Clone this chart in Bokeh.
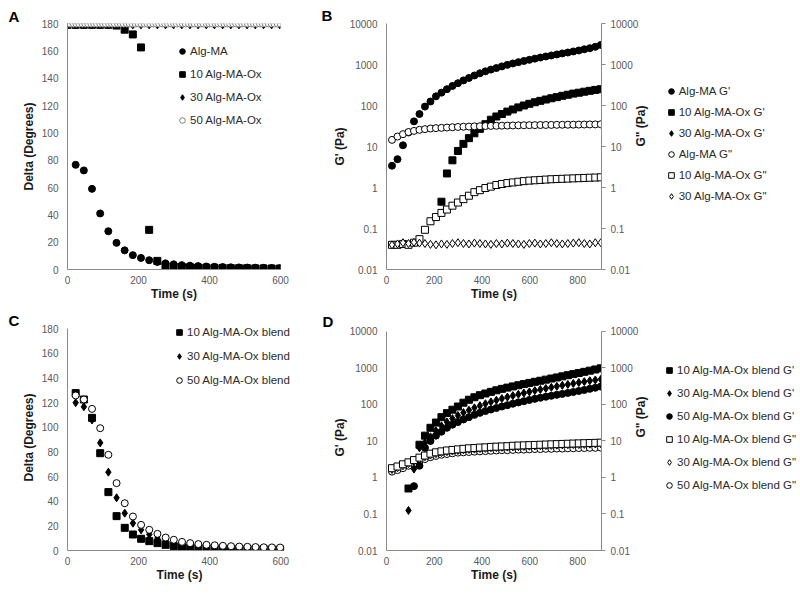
import math
from bokeh.plotting import figure
from bokeh.models import (Range1d, FixedTicker, LogAxis, Legend, LegendItem,
                          ColumnDataSource, CustomJSTickFormatter)
from bokeh.layouts import column, row
from bokeh.embed import file_html
from bokeh.resources import INLINE

# ---------------- data ----------------
# time points (s)
T = [23, 46, 69, 92, 115, 138, 161, 184, 207, 230, 253, 276, 299, 322, 345, 368, 391, 414, 437,
     460, 483, 506, 529, 552, 575, 598, 621, 644, 667, 690, 713, 736, 759, 782, 805, 828, 851, 874, 897]
T_A = [0, 23, 46, 69, 92, 115, 138, 161, 184, 207, 230, 253, 276, 299, 322, 345, 368, 391, 414, 437,
       460, 483, 506, 529, 552, 575, 598]
T_A50 = [0, 8, 17, 25, 33, 42, 50, 58, 67, 75, 83, 92, 100, 108, 117, 125, 133, 142, 150, 158, 167,
         175, 183, 192, 200, 208, 217, 225, 233, 242, 250, 258, 267, 275, 283, 292, 300, 308, 317,
         325, 333, 342, 350, 358, 367, 375, 383, 392, 400, 408, 417, 425, 433, 442, 450, 458, 467,
         475, 483, 492, 500, 508, 517, 525, 533, 542, 550, 558, 567, 575, 583, 592, 600]

# Panel A: delta (degrees)
A_algma = [76.6, 72.5, 59, 41, 28, 19.5, 14, 10.5, 8.5, 6.8, 5.5, 4.5, 3.8, 3.2, 2.8, 2.5, 2.2,
           2.0, 1.8, 1.6, 1.5, 1.4, 1.3, 1.2, 1.1, 1.0]
A_ox10 = [179, 179, 179, 179, 179, 179, 178.5, 175.5, 172, 162.5, 29, 6.3, 2.7, 2.2, 1.8, 1.6, 1.4,
          1.3, 1.2, 1.1, 1.0, 0.9, 0.9, 0.8, 0.8, 0.7, 0.7]
A_ox30 = [179, 179, 179, 179, 179, 179, 179, 179, 179, 179, 179, 179, 179, 179, 179, 179, 179, 179,
          179, 179, 179, 179, 179, 179, 179, 179, 179]
A_ox50 = [180, 180, 180, 180, 180, 180, 180, 180, 180, 180, 180, 180, 180, 180, 180, 180, 180, 180,
          180, 180, 180, 180, 180, 180, 180, 180, 180, 180, 180, 180, 180, 180, 180, 180, 180, 180,
          180, 180, 180, 180, 180, 180, 180, 180, 180, 180, 180, 180, 180, 180, 180, 180, 180, 180,
          180, 180, 180, 180, 180, 180, 180, 180, 180, 180, 180, 180, 180, 180, 180, 180, 180, 180, 180]

# Panel B: moduli (Pa)
B_algma_Gp = [3.4, 4.9, 10.7, 22, 41, 62, 94, 125, 167, 206, 250, 300, 350, 410, 470, 540, 610, 680,
              750, 820, 900, 980, 1060, 1140, 1220, 1300, 1390, 1480, 1570, 1660, 1760, 1860, 1960,
              2080, 2200, 2350, 2500, 2700, 3000]
B_ox10_Gp_t = [230, 253, 276, 299, 322, 345, 368, 391, 414, 437, 460, 483, 506, 529, 552, 575, 598,
               621, 644, 667, 690, 713, 736, 759, 782, 805, 828, 851, 874, 897]
B_ox10_Gp = [0.45, 2.2, 4.6, 7.8, 11.6, 16, 21, 27, 35, 45, 54, 62, 71, 80, 90, 100, 110, 120, 130,
             140, 150, 160, 172, 183, 195, 205, 217, 228, 240, 250]
# 30 Alg-MA-Ox stays liquid: G' is zero, so nothing shows on the log axis
B_ox30_Gp = [0, 0, 0, 0, 0, 0, 0, 0, 0, 0, 0, 0, 0, 0, 0, 0, 0, 0, 0, 0, 0, 0, 0, 0, 0, 0, 0, 0, 0,
             0, 0, 0, 0, 0, 0, 0, 0, 0, 0]
B_algma_Gpp = [14.5, 17.5, 20, 22.5, 24, 25.5, 26.5, 27.5, 28, 28.5, 29, 29.5, 30, 30.3, 30.6, 31,
               31.2, 31.5, 31.8, 32, 32.2, 32.4, 32.6, 32.8, 33, 33.1, 33.2, 33.4, 33.5, 33.6, 33.8,
               33.9, 34, 34.1, 34.2, 34.4, 34.5, 34.6, 34.8]
B_ox10_Gpp = [0.04, 0.04, 0.042, 0.04, 0.045, 0.055, 0.093, 0.15, 0.19, 0.24, 0.29, 0.36, 0.43, 0.52,
              0.63, 0.77, 0.86, 0.97, 1.05, 1.15, 1.22, 1.28, 1.33, 1.38, 1.43, 1.47, 1.5, 1.53, 1.56,
              1.59, 1.61, 1.63, 1.65, 1.67, 1.69, 1.71, 1.73, 1.75, 1.77]
B_ox30_Gpp = [0.04, 0.042, 0.045, 0.043, 0.046, 0.044, 0.043, 0.041, 0.04, 0.042, 0.041, 0.043, 0.045,
              0.043, 0.042, 0.044, 0.043, 0.042, 0.041, 0.043, 0.042, 0.044, 0.043, 0.042, 0.041,
              0.043, 0.044, 0.042, 0.043, 0.045, 0.043, 0.042, 0.043, 0.044, 0.045, 0.043, 0.042,
              0.045, 0.045]

# Panel C: delta (degrees), blends
C_t = [23, 46, 69, 92, 115, 138, 161, 184, 207, 230, 253, 276, 299, 322, 345, 368, 391, 414, 437,
       460, 483, 506, 529, 552, 575, 598]
C_ox10 = [127.8, 122.6, 107.7, 79, 47.4, 27.9, 18.4, 13, 9.5, 7.6, 6, 4.6, 3.5, 3, 2.5, 2.2, 2,
          1.8, 1.6, 1.4, 1.3, 1.2, 1.1, 1.0, 0.9, 0.8]
C_ox30 = [120, 116.7, 106, 87.4, 63.6, 42.8, 30.3, 22.2, 16.8, 13, 10, 8, 6.5, 5.5, 4.5, 4, 3.5, 3,
          2.7, 2.4, 2.2, 2, 1.8, 1.6, 1.5, 1.4]
C_ox50 = [125.9, 122.6, 115, 99.3, 77.7, 54.7, 38.4, 27.6, 20.8, 16.8, 13.5, 10.5, 8.7, 7, 6, 5.2,
          4.6, 4.2, 3.8, 3.5, 3.2, 3, 2.8, 2.6, 2.5, 2.4]

# Panel D: moduli (Pa), blends
D_ox10_Gp_t = [92, 138, 161, 184, 207, 230, 253, 276, 299, 322, 345, 368, 391, 414, 437, 460, 483,
               506, 529, 552, 575, 598, 621, 644, 667, 690, 713, 736, 759, 782, 805, 828, 851, 874, 897]
D_ox10_Gp = [0.5, 7.9, 14, 23, 32, 45, 58, 72, 88, 112, 135, 158, 180, 200, 222, 245, 268, 290, 313,
             337, 362, 390, 418, 448, 480, 515, 550, 590, 635, 680, 730, 785, 845, 910, 980]
D_ox30_Gp_t = [92, 115, 138, 161, 184, 207, 230, 253, 276, 299, 322, 345, 368, 391, 414, 437, 460,
               483, 506, 529, 552, 575, 598, 621, 644, 667, 690, 713, 736, 759, 782, 805, 828, 851,
               874, 897]
D_ox30_Gp = [0.125, 1.7, 6.5, 9, 13, 19, 26, 33, 41, 50, 60, 70, 81, 93, 105, 118, 131, 145, 160,
             175, 190, 206, 222, 240, 258, 276, 295, 315, 335, 355, 377, 400, 423, 447, 470, 490]
D_ox50_Gp_t = [115, 138, 161, 184, 207, 230, 253, 276, 299, 322, 345, 368, 391, 414, 437, 460, 483,
               506, 529, 552, 575, 598, 621, 644, 667, 690, 713, 736, 759, 782, 805, 828, 851, 874, 897]
D_ox50_Gp = [0.58, 2.1, 6.5, 10, 14, 18, 23, 28, 33, 39, 45, 52, 59, 66, 73, 80, 88, 96, 105, 114,
             123, 133, 143, 153, 163, 173, 184, 195, 207, 220, 235, 250, 268, 288, 310]
D_ox10_Gpp = [1.8, 2.0, 2.3, 2.6, 3.0, 3.5, 4.0, 4.5, 4.9, 5.2, 5.5, 5.7, 5.9, 6.1, 6.3, 6.4, 6.6,
              6.7, 6.9, 7.0, 7.1, 7.2, 7.4, 7.5, 7.6, 7.7, 7.8, 7.9, 8.0, 8.1, 8.2, 8.3, 8.4, 8.5,
              8.6, 8.7, 8.8, 8.9, 9.0]
D_ox30_Gpp = [1.65, 1.85, 2.1, 2.4, 2.8, 3.2, 3.7, 4.1, 4.5, 4.8, 5.1, 5.3, 5.5, 5.7, 5.9, 6.0, 6.2,
              6.3, 6.5, 6.6, 6.7, 6.8, 6.9, 7.0, 7.1, 7.2, 7.3, 7.4, 7.5, 7.6, 7.7, 7.8, 7.9, 8.0,
              8.0, 8.1, 8.2, 8.3, 8.4]
D_ox50_Gpp = [1.45, 1.6, 1.8, 2.1, 2.4, 2.8, 3.2, 3.6, 3.9, 4.2, 4.4, 4.6, 4.8, 4.9, 5.0, 5.1, 5.2,
              5.3, 5.4, 5.5, 5.6, 5.6, 5.7, 5.8, 5.8, 5.9, 6.0, 6.0, 6.1, 6.1, 6.2, 6.2, 6.3, 6.3,
              6.4, 6.4, 6.5, 6.5, 6.6]

DELTA_TICKS = [0, 20, 40, 60, 80, 100, 120, 140, 160, 180]
TIME_TICKS_A = [0, 200, 400, 600]
TIME_TICKS_B = [0, 200, 400, 600, 800]
LOG_TICKS = [0.01, 0.1, 1, 10, 100, 1000, 10000]

# ---------------- styling ----------------
FONT = "Liberation Sans"
AXIS_COL = "#8a8a8a"
TICK_COL = "#595959"


def style_axis(ax, ticks_out=0):
    ax.axis_line_color = AXIS_COL
    ax.axis_line_width = 1
    ax.major_tick_line_color = AXIS_COL if ticks_out else None
    ax.major_tick_out = ticks_out
    ax.major_tick_in = 0
    ax.minor_tick_line_color = None
    ax.major_label_text_font = FONT
    ax.major_label_text_font_size = "10px"
    ax.major_label_text_color = TICK_COL
    ax.axis_label_text_font = FONT
    ax.axis_label_text_font_style = "bold"
    ax.axis_label_text_font_size = "12px"
    ax.axis_label_text_color = "#1a1a1a"


def make_fig(w, h, left, right, top, bottom, xr, yr, letter, letter_offset, letter_standoff,
             log=False):
    p = figure(width=w, height=h, output_backend="svg", toolbar_location=None,
               x_range=Range1d(*xr), y_range=Range1d(*yr),
               y_axis_type="log" if log else "linear",
               min_border_left=left, min_border_right=right,
               min_border_top=top, min_border_bottom=bottom)
    p.xgrid.visible = False
    p.ygrid.visible = False
    p.outline_line_color = None
    p.background_fill_color = "white"
    p.border_fill_color = "white"
    p.title.text = letter
    p.title.align = "left"
    p.title.offset = letter_offset
    try:
        p.title.standoff = letter_standoff
    except Exception:
        p.title.standoff = 0
    p.title.text_font = FONT
    p.title.text_font_style = "bold"
    p.title.text_font_size = "15px"
    p.title.text_color = "black"
    return p


def legend_fig(w, h, top, bottom):
    # a frame-only figure that hosts the outside legend of a panel
    p = figure(width=w, height=h, output_backend="svg", toolbar_location=None,
               x_range=Range1d(-20, -10), y_range=Range1d(-20, -10),
               x_axis_location=None, y_axis_location=None,
               min_border_left=0, min_border_right=0, min_border_top=top,
               min_border_bottom=bottom)
    p.xgrid.visible = False
    p.ygrid.visible = False
    p.outline_line_color = None
    p.background_fill_color = "white"
    p.border_fill_color = "white"
    return p


def make_legend(items, loc, spacing):
    return Legend(items=items, location=loc, orientation="vertical",
                  glyph_width=14, glyph_height=20, label_height=20, label_standoff=1,
                  spacing=spacing, padding=0, margin=0, border_line_color=None,
                  background_fill_alpha=0.0, label_text_font=FONT,
                  label_text_font_size="11.5px", label_text_color="#2b2b2b")


log_fmt = CustomJSTickFormatter(code="return tick.toString();")


def src(x, y):
    return ColumnDataSource(dict(x=x, y=y))


def pts(p, s, marker, size, fill, line="black"):
    return p.scatter("x", "y", source=s, marker=marker, size=size,
                     fill_color=fill, line_color=line, line_width=1)


def style_linear(p, xticks):
    p.xaxis.ticker = FixedTicker(ticks=xticks)
    p.yaxis.ticker = FixedTicker(ticks=DELTA_TICKS)
    p.xaxis.axis_label = "Time (s)"
    p.yaxis.axis_label = "Delta (Degrees)"
    for ax in p.xaxis:
        style_axis(ax)
        ax.bounds = (0, 600)
        ax.major_label_standoff = 6
        ax.axis_label_standoff = 0
    for ax in p.yaxis:
        style_axis(ax)
        ax.bounds = (0, 180)
        ax.major_label_standoff = 9
        ax.axis_label_standoff = 3


def style_log(p):
    right_axis = LogAxis(axis_label='G" (Pa)')
    try:
        right_axis.axis_label_orientation = math.pi / 2
    except Exception:
        pass
    p.add_layout(right_axis, "right")
    p.xaxis.ticker = FixedTicker(ticks=TIME_TICKS_B)
    p.xaxis.axis_label = "Time (s)"
    p.yaxis[0].axis_label = "G' (Pa)"
    for ax in p.xaxis:
        style_axis(ax)
        ax.major_label_standoff = 6
        ax.axis_label_standoff = 0
    for i, ax in enumerate(p.yaxis):
        style_axis(ax, ticks_out=(4 if i == 1 else 0))
        ax.ticker = FixedTicker(ticks=LOG_TICKS)
        ax.formatter = log_fmt
        ax.bounds = (0.01, 10000)
        ax.major_label_standoff = 9 if i == 0 else 5
        ax.axis_label_standoff = 0


# ---------------- Panel A ----------------
pA = make_fig(300, 305, 67, 20, 23, 36, (0, 600), (0, 180), "A", -59, -2)
rA30 = pts(pA, src(T_A, A_ox30), "diamond", 8, "black")
rA10 = pts(pA, src(T_A, A_ox10), "square", 7, "black")
rAma = pts(pA, src(T[:26], A_algma), "circle", 7, "black")
rA50 = pts(pA, src(T_A50, A_ox50), "circle", 7, "white", "#7f7f7f")
pA.add_layout(make_legend([LegendItem(label="Alg-MA", renderers=[rAma]),
                           LegendItem(label="10 Alg-MA-Ox", renderers=[rA10]),
                           LegendItem(label="30 Alg-MA-Ox", renderers=[rA30]),
                           LegendItem(label="50 Alg-MA-Ox", renderers=[rA50])], (108, 139), 3))
style_linear(pA, TIME_TICKS_A)

# ---------------- Panel B ----------------
pB = make_fig(361, 305, 86, 60, 23, 36, (0, 900), (0.01, 10000), "B", -65, -1, log=True)
B_specs = [
    ("Alg-MA G'", src(T, B_algma_Gp), "circle", 7, "black"),
    ("10 Alg-MA-Ox G'", src(B_ox10_Gp_t, B_ox10_Gp), "square", 7, "black"),
    ("30 Alg-MA-Ox G'", src(T, B_ox30_Gp), "diamond", 8, "black"),
    ('Alg-MA G"', src(T, B_algma_Gpp), "circle", 7, "white"),
    ('10 Alg-MA-Ox G"', src(T, B_ox10_Gpp), "square", 7, "white"),
    ('30 Alg-MA-Ox G"', src(T, B_ox30_Gpp), "diamond", 8, "white"),
]
for lab, s, m, sz, fc in B_specs:
    pts(pB, s, m, sz, fc)
style_log(pB)
pBL = legend_fig(139, 305, 23, 36)
B_items = [LegendItem(label=lab, renderers=[pts(pBL, s, m, sz, fc)]) for lab, s, m, sz, fc in B_specs]
pBL.add_layout(make_legend(B_items, (2.7, 63.3), 1))

# ---------------- Panel C ----------------
pC = make_fig(300, 281, 67, 9, 19, 36, (0, 630), (0, 183.5), "C", -59, -9)
rC30 = pts(pC, src(C_t, C_ox30), "diamond", 8, "black")
rC10 = pts(pC, src(C_t, C_ox10), "square", 7, "black")
rC50 = pts(pC, src(C_t, C_ox50), "circle", 7, "white")
pC.add_layout(make_legend([LegendItem(label="10 Alg-MA-Ox blend", renderers=[rC10]),
                           LegendItem(label="30 Alg-MA-Ox blend", renderers=[rC30]),
                           LegendItem(label="50 Alg-MA-Ox blend", renderers=[rC50])], (105, 160.3), 4))
style_linear(pC, TIME_TICKS_A)

# ---------------- Panel D ----------------
pD = make_fig(361, 281, 86, 60, 19, 36, (0, 900), (0.01, 15550), "D", -64, -11, log=True)
D_specs = [
    ("10 Alg-MA-Ox blend G'", src(D_ox10_Gp_t, D_ox10_Gp), "square", 7, "black"),
    ("30 Alg-MA-Ox blend G'", src(D_ox30_Gp_t, D_ox30_Gp), "diamond", 8, "black"),
    ("50 Alg-MA-Ox blend G'", src(D_ox50_Gp_t, D_ox50_Gp), "circle", 7, "black"),
    ('10 Alg-MA-Ox blend G"', src(T, D_ox10_Gpp), "square", 7, "white"),
    ('30 Alg-MA-Ox blend G"', src(T, D_ox30_Gpp), "diamond", 8, "white"),
    ('50 Alg-MA-Ox blend G"', src(T, D_ox50_Gpp), "circle", 7, "white"),
]
for lab, s, m, sz, fc in reversed(D_specs):
    pts(pD, s, m, sz, fc)
style_log(pD)
pDL = legend_fig(139, 281, 19, 36)
D_items = [LegendItem(label=lab, renderers=[pts(pDL, s, m, sz, fc)]) for lab, s, m, sz, fc in D_specs]
pDL.add_layout(make_legend(D_items, (1, 55), 3))

layout = column(row(pA, pB, pBL), row(pC, pD, pDL))
open("out.html", "w").write(file_html(layout, INLINE))
